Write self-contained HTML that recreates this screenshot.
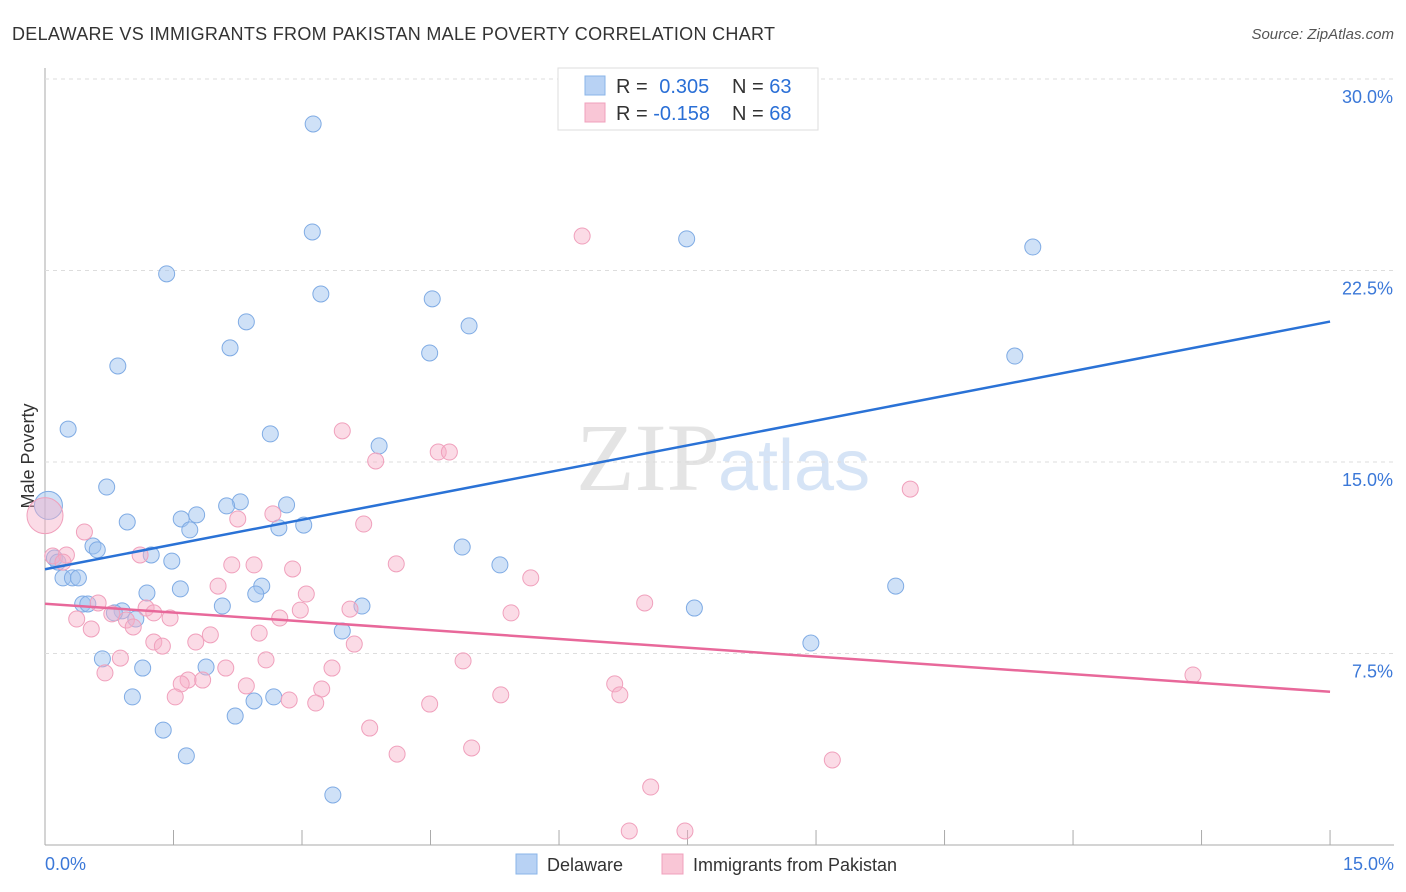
<!DOCTYPE html>
<html><head><meta charset="utf-8"><style>
body{margin:0;background:#fff;font-family:"Liberation Sans",sans-serif;}
svg{display:block}
</style></head><body>
<svg id="chart" width="1406" height="892">
<text x="12" y="40" font-size="18" fill="#333" textLength="763">DELAWARE VS IMMIGRANTS FROM PAKISTAN MALE POVERTY CORRELATION CHART</text>
<text x="1394" y="39" font-size="15" fill="#555" font-style="italic" text-anchor="end">Source: ZipAtlas.com</text>
<text x="720" y="490" font-size="96" fill="#e4e4e4" font-family="Liberation Serif,serif" text-anchor="end">ZIP</text>
<text x="718" y="490" font-size="72" fill="#d6e4f6">atlas</text>
<text transform="translate(34,456) rotate(-90)" font-size="18" fill="#333" text-anchor="middle">Male Poverty</text>
<g id="grid"></g><g id="pts"></g><g id="lines"></g>
<g>
<rect x="558" y="68" width="260" height="62" fill="#fff" stroke="#ddd"/>
<rect x="585" y="76" width="20" height="19" fill="#b8d2f4" stroke="#8ab4e8"/>
<rect x="585" y="103" width="20" height="19" fill="#f9c6d6" stroke="#f0a0bc"/>
<text x="616" y="93" font-size="20" fill="#333">R = <tspan fill="#2a6fd6" dx="6">0.305</tspan></text>
<text x="732" y="93" font-size="20" fill="#333">N = <tspan fill="#2a6fd6">63</tspan></text>
<text x="616" y="120" font-size="20" fill="#333">R = <tspan fill="#2a6fd6">-0.158</tspan></text>
<text x="732" y="120" font-size="20" fill="#333">N = <tspan fill="#2a6fd6">68</tspan></text>
</g>
<g>
<rect x="516" y="854" width="21" height="20" fill="#b8d2f4" stroke="#8ab4e8"/>
<text x="547" y="871" font-size="18" fill="#333">Delaware</text>
<rect x="662" y="854" width="21" height="20" fill="#f9c6d6" stroke="#f0a0bc"/>
<text x="693" y="871" font-size="18" fill="#333">Immigrants from Pakistan</text>
</g>
</svg>
<script>
const yTicks=[7.5,15,22.5,30];
const xTickLabels=["0.0%","15.0%"];
const bluePts=[[313,124],[312,232],[687,239],[1033,247],[167,274],[321,294],[432,299],[246,322],[469,326],[230,348],[430,353],[1015,356],[118,366],[68,429],[270,434],[379,446],[107,487],[240,502],[227,506],[287,505],[197,515],[181,519],[127,522],[304,525],[279,528],[190,530],[93,546],[97,550],[462,547],[151,555],[172,561],[54,558],[58,562],[500,565],[262,586],[180,589],[896,586],[63,578],[72,578],[78,578],[147,593],[256,594],[222,606],[362,606],[83,604],[88,604],[694,608],[122,611],[114,613],[136,619],[342,631],[811,643],[102,659],[143,668],[206,667],[132,697],[274,697],[254,701],[235,716],[163,730],[186,756],[333,795]].map(p=>[+((p[0]-45)/85.67).toFixed(2),+((845-p[1])/25.53).toFixed(2)]);
const pinkPts=[[582,236],[342,431],[438,452],[449,452],[376,461],[910,489],[84,532],[238,519],[273,514],[364,524],[53,556],[66,555],[140,555],[63,562],[232,565],[254,565],[396,564],[293,569],[531,578],[218,586],[306,594],[98,603],[146,608],[300,610],[350,609],[645,603],[511,613],[112,614],[126,620],[154,613],[77,619],[133,627],[170,618],[280,618],[91,629],[210,635],[259,633],[154,642],[162,646],[196,642],[354,644],[120,658],[266,660],[463,661],[226,668],[332,668],[105,673],[188,680],[203,680],[181,684],[246,686],[322,689],[615,684],[175,697],[620,695],[501,695],[289,700],[316,703],[430,704],[1193,675],[370,728],[472,748],[397,754],[832,760],[651,787],[629,831],[685,831]].map(p=>[+((p[0]-45)/85.67).toFixed(2),+((845-p[1])/25.53).toFixed(2)]);
const blueLine=[[0,10.8],[15,20.5]];
const pinkLine=[[0,9.45],[15,6.0]];
const X=v=>45+v*85.67, Y=v=>845-v*25.533;
const NS="http://www.w3.org/2000/svg";
function mk(t,a,parent){const e=document.createElementNS(NS,t);for(const k in a)e.setAttribute(k,a[k]);document.getElementById(parent).appendChild(e);return e;}
const ax=mk('line',{x1:45,y1:68,x2:45,y2:845,stroke:'#aaa'},'grid');


const bx=mk('line',{x1:45,y1:845,x2:1394,y2:845,stroke:'#aaa'},'grid');


yTicks.forEach(t=>{const g=mk('line',{x1:45,y1:Y(t),x2:1394,y2:Y(t),stroke:'#ddd','stroke-dasharray':'4 4'},'grid');


const l=mk('text',{x:1393,y:Y(t)+24,'font-size':18,fill:'#3b78d8','text-anchor':'end'},'grid');l.textContent=t.toFixed(1)+'%';

});
for(let i=1;i<=10;i++){const t=mk('line',{x1:X(i*1.5),y1:830,x2:X(i*1.5),y2:845,stroke:'#aaa'},'grid');

}
const l0=mk('text',{x:45,y:870,'font-size':18,fill:'#3b78d8'},'grid');l0.textContent=xTickLabels[0];


const l1=mk('text',{x:1394,y:870,'font-size':18,fill:'#3b78d8','text-anchor':'end'},'grid');l1.textContent=xTickLabels[1];


bluePts.forEach(p=>{const c=mk('circle',{cx:X(p[0]),cy:Y(p[1]),r:8,fill:'rgba(160,196,240,0.5)',stroke:'#7fabe4','stroke-width':1},'pts');

});
pinkPts.forEach(p=>{const c=mk('circle',{cx:X(p[0]),cy:Y(p[1]),r:8,fill:'rgba(246,176,200,0.45)',stroke:'#f0a0bc','stroke-width':1},'pts');

});
const bb=mk('circle',{cx:X(0.04),cy:Y(13.3),r:14,fill:'rgba(160,196,240,0.5)',stroke:'#7fabe4'},'pts');


const pb=mk('circle',{cx:X(0.0),cy:Y(12.9),r:18,fill:'rgba(246,176,200,0.45)',stroke:'#f0a0bc'},'pts');


const L1=mk('line',{x1:X(blueLine[0][0]),y1:Y(blueLine[0][1]),x2:X(blueLine[1][0]),y2:Y(blueLine[1][1]),stroke:'#2a72d6','stroke-width':2.5},'lines');


const L2=mk('line',{x1:X(pinkLine[0][0]),y1:Y(pinkLine[0][1]),x2:X(pinkLine[1][0]),y2:Y(pinkLine[1][1]),stroke:'#e8689a','stroke-width':2.5},'lines');


</script>
</body></html>
